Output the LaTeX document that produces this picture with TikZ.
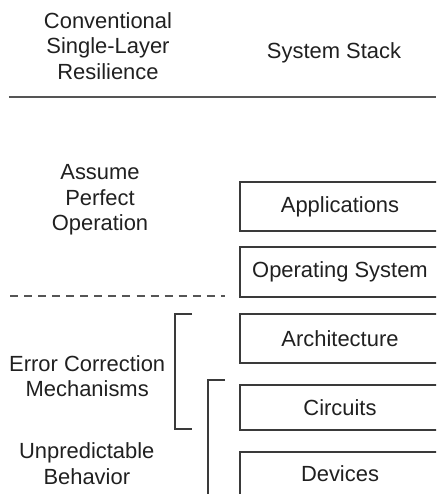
\documentclass[tikz,border=0pt]{standalone}
\usepackage{fontspec}
\setmainfont{Liberation Sans}
\usetikzlibrary{positioning,calc}
\definecolor{stackInk}{HTML}{202020}
\definecolor{stackFrame}{HTML}{3A3A3A}
\definecolor{stackRule}{HTML}{555555}
\tikzset{
  % Layer boxes run off the right edge of the page; only three sides show.
  stack/base/.style={
    font=\rmfamily\fontsize{15.6pt}{18.1pt}\selectfont,
    text=stackInk,
    line cap=butt,
    line join=miter
  },
  stack/label/.style={
    align=center,
    inner sep=0pt
  },
  stack/layer/.style={
    draw=stackFrame,
    line width=1.3pt,
    minimum width=5cm,
    inner sep=0pt,
    outer sep=0pt
  },
  stack/bracket/.style={
    draw=stackFrame,
    line width=1.3pt
  },
  stack/rule/.style={
    draw=stackRule,
    line width=1.5pt
  },
  stack/split/.style={
    draw=stackRule,
    line width=1.1pt,
    dash pattern=on 5.7pt off 4.3pt
  }
}
\begin{document}
\begin{tikzpicture}[stack/base,x=1cm,y=1cm]
  \useasboundingbox (0,0) rectangle (10.9,12.35);
  \clip (0,0) rectangle (10.9,12.35);

  % column heads
  \node[stack/label] (headLeft) at (2.7,11.2)
    {Conventional\\Single-Layer\\Resilience};
  \node[stack/label] (headRight) at (8.35,11.03) {System Stack};
  \draw[stack/rule] (.22,9.93)--(10.9,9.93);

  % system stack, top to bottom
  \node[stack/layer,minimum height=1.225cm] (app) at (8.5,7.19) {Applications};
  \node[stack/layer,minimum height=1.25cm,below=.41cm of app] (os) {Operating System};
  \node[stack/layer,minimum height=1.225cm,below=.42cm of os] (arch) {Architecture};
  \node[stack/layer,minimum height=1.125cm,below=.55cm of arch] (circ) {Circuits};
  \node[stack/layer,minimum height=1.075cm,below=.55cm of circ] (dev) {Devices};

  % resilience notes on the left
  \node[stack/label] (perfect) at (2.5,7.35) {Assume\\Perfect\\Operation};
  \draw[stack/split] (.25,4.95)--(5.62,4.95);
  \node[stack/label] (correct) at (2.18,2.94) {Error Correction\\Mechanisms};
  \node[stack/label] (unpredict) at (2.17,.76) {Unpredictable\\Behavior};

  % brackets: arch..circ, and circ downwards
  \coordinate (corrTop) at (4.375,4.5);
  \coordinate (corrBot) at (4.375,1.63);
  \draw[stack/bracket] ($(corrTop)+(.43,0)$)--(corrTop)--(corrBot)--($(corrBot)+(.43,0)$);
  \coordinate (behTop) at (5.2,2.85);
  \draw[stack/bracket] ($(behTop)+(.43,0)$)--(behTop)--(5.2,-.2);
\end{tikzpicture}
\end{document}
